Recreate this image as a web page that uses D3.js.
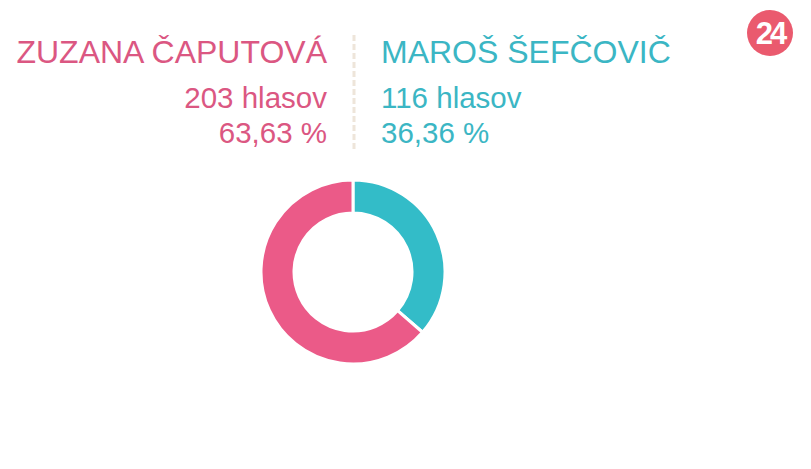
<!DOCTYPE html>
<html><head><meta charset="utf-8">
<script src="https://cdn.jsdelivr.net/npm/d3@7"></script>
<style>html,body{margin:0;padding:0;background:#fff;}svg{display:block;}</style>
</head><body>
<script>
const candidates = ["ZUZANA ČAPUTOVÁ", "MAROŠ ŠEFČOVIČ"];
const votes = [203, 116];
const voteLabels = ["203 hlasov", "116 hlasov"];
const percentLabels = ["63,63 %", "36,36 %"];
const donutColors = ["#eb5a88", "#33bcc8"];
const textColors = ["#db5782", "#3bb6c4"];

const W = 811, H = 469;
const svg = d3.select("body").append("svg").attr("width", W).attr("height", H);
const font = "'Liberation Sans', Arial, sans-serif";

// header texts
const cols = [{x: 327, anchor: "end"}, {x: 381, anchor: "start"}];
candidates.forEach((c, i) => {
  const g = svg.append("g").attr("fill", textColors[i]).style("font-family", font);
  g.append("text").attr("x", cols[i].x).attr("y", 63).attr("text-anchor", cols[i].anchor)
    .style("font-size", "32px").text(c);
  g.append("text").attr("x", cols[i].x).attr("y", 108).attr("text-anchor", cols[i].anchor)
    .style("font-size", "29.5px").text(voteLabels[i]);
  g.append("text").attr("x", cols[i].x).attr("y", 143).attr("text-anchor", cols[i].anchor)
    .style("font-size", "29.5px").text(percentLabels[i]);
});

// divider
svg.append("line").attr("x1", 354).attr("x2", 354).attr("y1", 35).attr("y2", 152)
  .attr("stroke", "#eee5da").attr("stroke-width", 3).attr("stroke-dasharray", "6,3");

// logo
const logo = svg.append("g").attr("transform", "translate(770,33)");
logo.append("circle").attr("r", 23).attr("fill", "#ea5a6e");
logo.append("text").attr("x", 0).attr("y", 11).attr("text-anchor", "middle")
  .attr("fill", "#fff").style("font-family", font).style("font-weight", "bold")
  .style("font-size", "31px").style("letter-spacing", "-3px").text("24");

// donut: teal first (clockwise from top), then pink
const order = [1, 0];
const pie = d3.pie().sort(null).value(i => votes[i]);
const arcs = pie(order);
const arc = d3.arc().innerRadius(59).outerRadius(92);
svg.append("g").attr("transform", "translate(353,272)")
  .selectAll("path").data(arcs).join("path")
  .attr("d", arc).attr("fill", d => donutColors[d.data])
  .attr("stroke", "#fff").attr("stroke-width", 3);
</script>
</body></html>
